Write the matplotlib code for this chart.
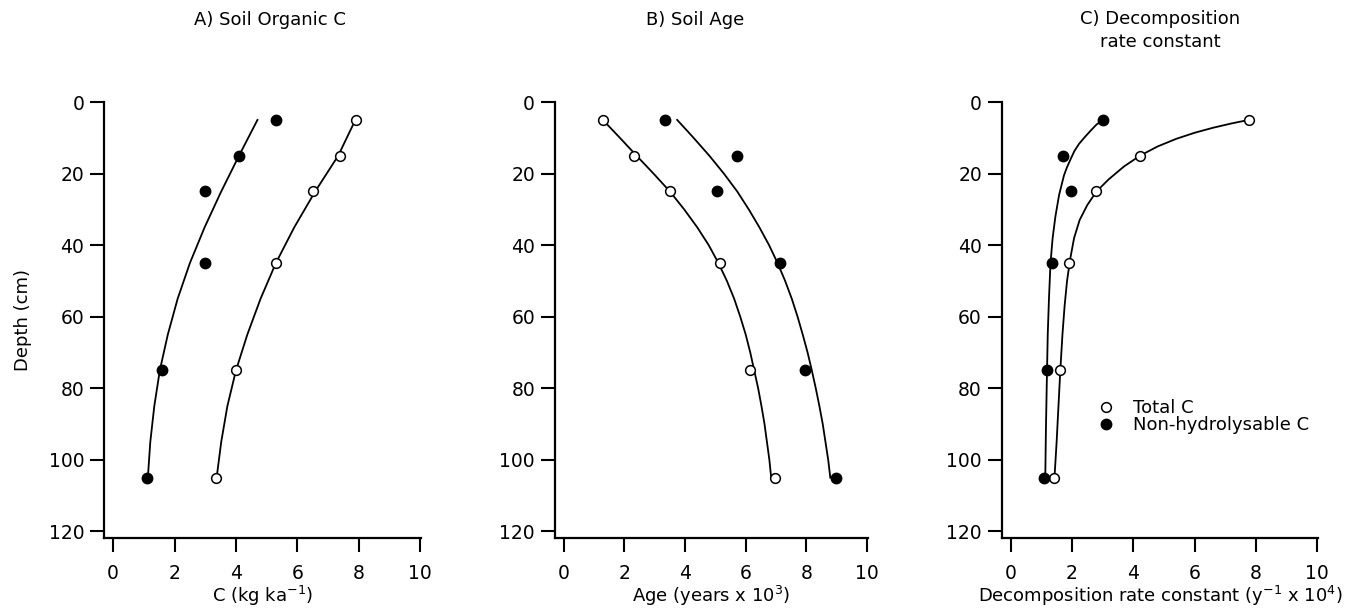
import numpy as np
import matplotlib
matplotlib.use('Agg')
import matplotlib.pyplot as plt
import matplotlib.ticker as ticker

# measured depths (cm)
depth = [5, 15, 25, 45, 75, 105]

# A) soil organic C (kg ka-1)
orgc_total = [7.9, 7.4, 6.5, 5.3, 4.0, 3.35]
orgc_nonhyd = [5.3, 4.1, 3.0, 3.0, 1.6, 1.1]
# fitted curves
orgc_fit_d = [5, 15, 25, 35, 45, 55, 65, 75, 85, 95, 105]
orgc_total_fit_v = [7.89, 7.33, 6.58, 5.90, 5.30, 4.80, 4.37, 4.00, 3.72, 3.52, 3.37]
orgc_nonhyd_fit_v = [4.70, 4.10, 3.52, 2.98, 2.50, 2.10, 1.78, 1.52, 1.34, 1.21, 1.13]

# B) soil age (years x 10^3)
age_total = [1.29, 2.33, 3.52, 5.14, 6.13, 6.98]
age_nonhyd = [3.33, 5.71, 5.05, 7.14, 7.97, 8.99]
age_fit_d = [5, 10, 15, 20, 25, 30, 35, 40, 45, 50, 55, 60, 65, 70, 75, 80, 85, 90, 95, 100, 105]
age_total_fit_v = [1.29, 1.85, 2.40, 2.96, 3.50, 3.97, 4.40, 4.78, 5.10, 5.38, 5.62,
                   5.82, 6.00, 6.15, 6.28, 6.41, 6.52, 6.62, 6.70, 6.78, 6.84]
age_nonhyd_fit_v = [3.74, 4.28, 4.80, 5.28, 5.72, 6.10, 6.45, 6.77, 7.05, 7.30, 7.52,
                    7.71, 7.88, 8.04, 8.18, 8.31, 8.43, 8.54, 8.63, 8.72, 8.79]

# C) decomposition rate constant (y-1 x 10^4)
k_total = [7.77, 4.22, 2.80, 1.90, 1.61, 1.41]
k_nonhyd = [3.02, 1.72, 1.96, 1.36, 1.20, 1.09]
k_total_fit_d = [5, 6.0, 7.2, 8.6, 10.3, 12.4, 15, 18, 21.6, 25, 28.8, 33, 38, 44, 50,
                 57, 65, 75, 85, 95, 105]
k_total_fit_v = [7.77, 7.2, 6.6, 6.0, 5.4, 4.8, 4.22, 3.7, 3.2, 2.80, 2.50, 2.25, 2.07,
                 1.94, 1.84, 1.76, 1.69, 1.62, 1.56, 1.50, 1.43]
k_nonhyd_fit_d = [5, 6.3, 8, 9.8, 11.7, 13.7, 15.9, 18.2, 20.5, 26, 32, 38, 45, 55, 65,
                  78, 92, 105]
k_nonhyd_fit_v = [3.02, 2.80, 2.61, 2.42, 2.23, 2.08, 1.96, 1.84, 1.74, 1.58, 1.46, 1.37,
                  1.30, 1.25, 1.21, 1.18, 1.15, 1.13]

xticks = [0, 2, 4, 6, 8, 10]
yticks = [0, 20, 40, 60, 80, 100, 120]

plt.rcParams['font.family'] = 'DejaVu Sans'
plt.rcParams['mathtext.fontset'] = 'dejavusans'

fig = plt.figure(figsize=(13.45, 6.09), dpi=100)
ax_a = fig.add_axes([0.0775, 0.1163, 0.2356, 0.7162])
ax_b = fig.add_axes([0.4126, 0.1163, 0.2327, 0.7162])
ax_c = fig.add_axes([0.7448, 0.1163, 0.2352, 0.7162])

panels = [
    (ax_a, orgc_total, orgc_nonhyd, orgc_total_fit_v, orgc_fit_d,
     orgc_nonhyd_fit_v, orgc_fit_d, r'C (kg ka$^{\mathregular{-1}}$)'),
    (ax_b, age_total, age_nonhyd, age_total_fit_v, age_fit_d,
     age_nonhyd_fit_v, age_fit_d, r'Age (years x 10$^{\mathregular{3}}$)'),
    (ax_c, k_total, k_nonhyd, k_total_fit_v, k_total_fit_d,
     k_nonhyd_fit_v, k_nonhyd_fit_d,
     r'Decomposition rate constant (y$^{\mathregular{-1}}$ x 10$^{\mathregular{4}}$)'),
]

for ax, tot, non, tfv, tfd, nfv, nfd, xlab in panels:
    ax.plot(tfv, tfd, color='black', linewidth=1.3, zorder=2)
    ax.plot(nfv, nfd, color='black', linewidth=1.3, zorder=2)
    ax.plot(tot, depth, linestyle='none', marker='o', markersize=7,
            markerfacecolor='white', markeredgecolor='black',
            markeredgewidth=1.1, zorder=3, label='Total C')
    ax.plot(non, depth, linestyle='none', marker='o', markersize=7.5,
            markerfacecolor='black', markeredgecolor='black',
            zorder=3, label='Non-hydrolysable C')
    ax.set_xlim(-0.29, 10.03)
    ax.set_ylim(121.9, 0)
    ax.xaxis.set_major_locator(ticker.FixedLocator(xticks))
    ax.yaxis.set_major_locator(ticker.FixedLocator(yticks))
    ax.spines['top'].set_visible(False)
    ax.spines['right'].set_visible(False)
    ax.spines['left'].set_linewidth(1.6)
    ax.spines['bottom'].set_linewidth(1.6)
    ax.tick_params(axis='both', direction='out', length=9.8, width=1.5,
                   labelsize=13.5, color='black')
    ax.tick_params(axis='x', pad=8.5)
    ax.tick_params(axis='y', pad=4.5)
    ax.set_xlabel(xlab, fontsize=13, labelpad=1)

ax_a.set_ylabel('Depth (cm)', fontsize=13, labelpad=12)

ax_c.legend(loc='center left', bbox_to_anchor=(2.8, 88.0),
            bbox_transform=ax_c.transData, frameon=False, fontsize=13,
            handlelength=1.0, handletextpad=1.0, labelspacing=-0.05,
            borderpad=0, borderaxespad=0)

fig.text(270 / 1345, 1 - 20 / 609, 'A) Soil Organic C', ha='center', va='center', fontsize=13)
fig.text(695 / 1345, 1 - 20 / 609, 'B) Soil Age', ha='center', va='center', fontsize=13)
fig.text(1160 / 1345, 1 - 30.5 / 609, 'C) Decomposition\nrate constant', ha='center',
         va='center', fontsize=13, linespacing=1.3)

fig.savefig('out.png', dpi=100)
